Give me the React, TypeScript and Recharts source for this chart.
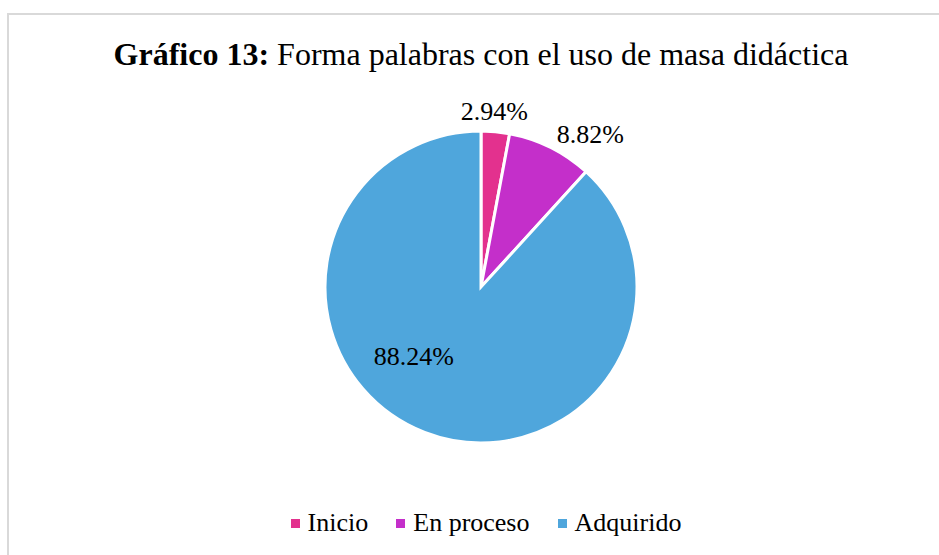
import { PieChart, Pie, Cell, Legend } from "recharts";

const categories = ["Inicio", "En proceso", "Adquirido"];
const percentages = [2.94, 8.82, 88.24];
const colors = ["#E3318E", "#C42FCA", "#4FA6DC"];

const chartData = categories.map((name, i) => ({ name, value: percentages[i] }));

const RADIAN = Math.PI / 180;
const FONT = "'Liberation Serif', 'Times New Roman', serif";

// Excel-like "best fit" placement: two small slices outside, big one inside
const renderLabel = (props: any) => {
  const { cx, cy, midAngle, outerRadius, index, value } = props;
  const r = index === 2 ? outerRadius * 0.48 : index === 1 ? outerRadius + 14 : outerRadius + 20;
  const x = cx + r * Math.cos(-midAngle * RADIAN) - (index === 0 ? 3 : 0);
  const y = cy + r * Math.sin(-midAngle * RADIAN);
  const anchor = index === 0 ? "middle" : index === 1 ? "start" : "end";
  return (
    <text
      x={x}
      y={y}
      textAnchor={anchor}
      dominantBaseline="central"
      fill="#000"
      fontFamily={FONT}
      fontSize={26}
    >
      {value.toFixed(2)}%
    </text>
  );
};

const renderLegend = () => (
  <div
    style={{
      display: "flex",
      justifyContent: "center",
      alignItems: "center",
      fontFamily: FONT,
      fontSize: 26,
      lineHeight: "30px",
      color: "#000",
    }}
  >
    {categories.map((c, i) => (
      <div key={c} style={{ display: "flex", alignItems: "center", marginRight: i < 2 ? 28 : 0 }}>
        <span style={{ width: 9, height: 9, background: colors[i], marginRight: 8, display: "inline-block" }} />
        <span>{c}</span>
      </div>
    ))}
  </div>
);

export default function App() {
  return (
    <div
      style={{
        position: "absolute",
        left: 0,
        top: 0,
        width: 939,
        height: 555,
        overflow: "hidden",
        background: "#fff",
      }}
    >
      <div
        style={{
          position: "absolute",
          left: 7,
          top: 13,
          width: 960,
          height: 580,
          border: "2px solid #D9D9D9",
        }}
      />
      <div
        style={{
          position: "absolute",
          left: 0,
          top: 36,
          width: 962,
          textAlign: "center",
          fontFamily: FONT,
          fontSize: 32,
          lineHeight: "36px",
          color: "#000",
        }}
      >
        <b>Gráfico 13:</b> Forma palabras con el uso de masa didáctica
      </div>
      <PieChart
        width={939}
        height={555}
        margin={{ top: 0, right: 0, bottom: 0, left: 0 }}
        style={{ position: "absolute", left: 0, top: 0 }}
      >
        <Pie
          data={chartData}
          dataKey="value"
          nameKey="name"
          cx={481}
          cy={287}
          outerRadius={156}
          startAngle={90}
          endAngle={-270}
          stroke="#fff"
          strokeWidth={3}
          label={renderLabel}
          labelLine={false}
          isAnimationActive={false}
        >
          {chartData.map((d, i) => (
            <Cell key={d.name} fill={colors[i]} />
          ))}
        </Pie>
        <Legend
          content={renderLegend}
          verticalAlign="bottom"
          wrapperStyle={{ left: 0, top: 508, bottom: "auto", width: 972 }}
        />
      </PieChart>
    </div>
  );
}
